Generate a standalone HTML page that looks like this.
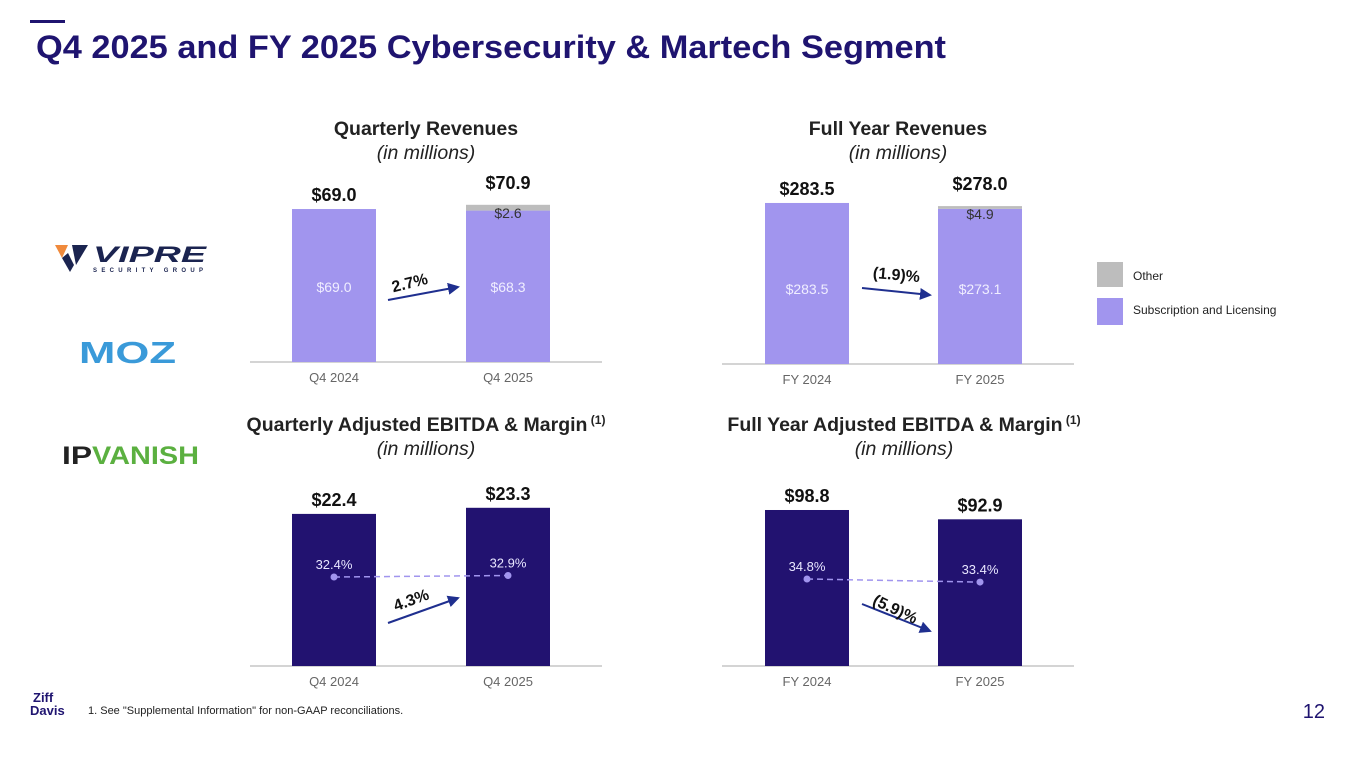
<!DOCTYPE html>
<html><head><meta charset="utf-8">
<style>
body{margin:0;width:1365px;height:770px;background:#fff;overflow:hidden;font-family:"Liberation Sans",Arial,sans-serif;}
svg{position:absolute;left:0;top:0}
</style></head>
<body>
<svg width="1365" height="770" viewBox="0 0 1365 770" font-family="Liberation Sans, Arial, sans-serif">
<rect x="30" y="20" width="35" height="3" fill="#1f1470"/>
<text x="36" y="58" font-size="32" font-weight="bold" fill="#1f1470" textLength="910" lengthAdjust="spacingAndGlyphs">Q4 2025 and FY 2025 Cybersecurity &amp; Martech Segment</text>

<g>
  <g>
    <polygon points="55,245 68,245 62,258" fill="#f08a3c"/>
    <polygon points="62,258 70,272 74,265 68,253" fill="#1b2450"/>
    <polygon points="72,245 88,245 76,265" fill="#1b2450"/>
    <text x="93" y="262" font-size="22" font-weight="bold" font-style="italic" fill="#1b2450" textLength="113" lengthAdjust="spacingAndGlyphs">VIPRE</text>
    <text x="93" y="272" font-size="6" font-weight="bold" fill="#1b2450" textLength="110">SECURITY GROUP</text>
  </g>
  <text x="79" y="363" font-size="31" font-weight="bold" fill="#3a9ad9" textLength="97" lengthAdjust="spacingAndGlyphs">MOZ</text>
  <g>
    <text x="62" y="464" font-size="25" font-weight="bold" fill="#222" textLength="30" lengthAdjust="spacingAndGlyphs">IP</text>
    <text x="92" y="464" font-size="25" font-weight="bold" fill="#5bb040" textLength="107" lengthAdjust="spacingAndGlyphs">VANISH</text>
  </g>
</g>

<g id="charts"></g>

<g>
  <rect x="1097" y="262" width="26" height="25" fill="#bdbdbd"/>
  <text x="1133" y="280" font-size="12" fill="#222">Other</text>
  <rect x="1097" y="298" width="26" height="27" fill="#a195ee"/>
  <text x="1133" y="314" font-size="12" fill="#222">Subscription and Licensing</text>
</g>

<g>
  <text x="33" y="702" font-size="13" font-weight="bold" fill="#1f1470">Ziff</text>
  <text x="30" y="715" font-size="13" font-weight="bold" fill="#1f1470">Davis</text>
</g>
<text x="88" y="714" font-size="11" fill="#222">1.  See "Supplemental Information" for non-GAAP reconciliations.</text>
<text x="1325" y="718" font-size="20" fill="#1f1470" text-anchor="end">12</text>
</svg>

<script>
const qRevCats = ["Q4 2024","Q4 2025"];
const qRevSub = [69.0, 68.3];
const qRevOther = [0, 2.6];
const qRevTotal = [69.0, 70.9];
const fyRevCats = ["FY 2024","FY 2025"];
const fyRevSub = [283.5, 273.1];
const fyRevOther = [0, 4.9];
const fyRevTotal = [283.5, 278.0];
const qEbCats = ["Q4 2024","Q4 2025"];
const qEbVals = [22.4, 23.3];
const qEbMargin = [32.4, 32.9];
const fyEbCats = ["FY 2024","FY 2025"];
const fyEbVals = [98.8, 92.9];
const fyEbMargin = [34.8, 33.4];
const growthLabels = ["2.7%","(1.9)%","4.3%","(5.9)%"];

const NS="http://www.w3.org/2000/svg";
const root=document.getElementById('charts');
function el(tag,attrs,parent){const e=document.createElementNS(NS,tag);for(const k in attrs)e.setAttribute(k,attrs[k]);(parent||root).appendChild(e);return e;}
function txt(x,y,s,size,fill,weight,parent,anchor,extra){const t=el('text',Object.assign({x:x,y:y,'font-size':size,fill:fill,'font-weight':weight||'normal','text-anchor':anchor||'middle'},extra||{}),parent);t.textContent=s;return t;}

function chart(opt){
  const g=el('g',{});
  
  
  const t1=txt(opt.cx,opt.titleY,opt.title,19.5,'#222','bold',g);
  
  
  if(opt.sup){const s=el('tspan',{'font-size':12,dy:-7},t1);s.textContent=' (1)';}
  const t2=txt(opt.cx,opt.titleY+24,'(in millions)',19.5,'#222','normal',g,'middle',{'font-style':'italic'});
  
  
  const ax=el('line',{x1:opt.x0,x2:opt.x0+352,y1:opt.base,y2:opt.base,stroke:'#aaa','stroke-width':1},g);
  
  
  const yS=v=>opt.base-v*opt.k;
  opt.cats.forEach((c,i)=>{
    const bx=opt.barX[i];
    const sub=opt.sub[i];
    const b=el('rect',{x:bx,y:yS(sub),width:84,height:sub*opt.k,fill:opt.color},g);
    
    
    let top=yS(sub);
    if(opt.other && opt.other[i]>0){
      const o=el('rect',{x:bx,y:yS(sub+opt.other[i]),width:84,height:opt.other[i]*opt.k,fill:'#bdbdbd'},g);
      
      
      top=yS(sub+opt.other[i]);
      const ol=txt(bx+42,top+13,'$'+opt.other[i].toFixed(1),14,'#333','normal',g);
      
      
      top-=8;
    }
    const tl=txt(bx+42,top-8,'$'+opt.total[i].toFixed(1),18,'#111','bold',g);
    
    
    if(opt.margin){
      const my=opt.mBase-(opt.margin[i]-opt.mRef)*opt.mk;
      const ml=txt(bx+42,my-8,opt.margin[i].toFixed(1)+'%',13,'#e8e6ff','normal',g);
      
      
    } else {
      const il=txt(bx+42,opt.base-70,'$'+sub.toFixed(1),14,'#f0eeff','normal',g);
      
      
    }
    const cl=txt(bx+42,opt.base+20,c,13,'#666','normal',g);
    
    
  });
  if(opt.margin){
    const pts=opt.margin.map((m,i)=>[opt.barX[i]+42,opt.mBase-(m-opt.mRef)*opt.mk]);
    const ln=el('line',{x1:pts[0][0],y1:pts[0][1],x2:pts[1][0],y2:pts[1][1],stroke:'#a195ee','stroke-width':1.5,'stroke-dasharray':'6,4'},g);
    
    
    pts.forEach(p=>{const d=el('circle',{cx:p[0],cy:p[1],r:3.5,fill:'#a195ee'},g);
      
      });
  }
  const a=opt.arrow;
  const ar=el('line',{x1:a[0],y1:a[1],x2:a[2],y2:a[3],stroke:'#1f2f8f','stroke-width':2,'marker-end':'url(#ah)'},g);
  
  
  const gl=txt(a[4],a[5],opt.growth,16,'#111','bold',g,'middle',{transform:'rotate('+a[6]+' '+a[4]+' '+a[5]+')'});
  
  
}
const defs=el('defs',{});
const mk=el('marker',{id:'ah',markerWidth:6,markerHeight:6,refX:5,refY:3,orient:'auto'},defs);
el('path',{d:'M0,0 L6,3 L0,6 z',fill:'#1f2f8f'},mk);

chart({name:'quarterly-revenue-chart',title:'Quarterly Revenues',cx:426,titleY:135,x0:250,base:362,k:2.217,barX:[292,466],cats:qRevCats,sub:qRevSub,other:qRevOther,total:qRevTotal,color:'#a195ee',arrow:[388,300,458,287,411,288,-14],growth:growthLabels[0]});
chart({name:'full-year-revenue-chart',title:'Full Year Revenues',cx:898,titleY:135,x0:722,base:364,k:0.568,barX:[765,938],cats:fyRevCats,sub:fyRevSub,other:fyRevOther,total:fyRevTotal,color:'#a195ee',arrow:[862,288,930,295,896,280,5],growth:growthLabels[1]});
chart({name:'quarterly-ebitda-chart',title:'Quarterly Adjusted EBITDA & Margin',sup:true,cx:426,titleY:431,x0:250,base:666,k:6.79,barX:[292,466],cats:qEbCats,sub:qEbVals,total:qEbVals,color:'#221270',margin:qEbMargin,mRef:32.4,mBase:577,mk:3,arrow:[388,623,458,598,413,605,-20],growth:growthLabels[2]});
chart({name:'full-year-ebitda-chart',title:'Full Year Adjusted EBITDA & Margin',sup:true,cx:904,titleY:431,x0:722,base:666,k:1.579,barX:[765,938],cats:fyEbCats,sub:fyEbVals,total:fyEbVals,color:'#221270',margin:fyEbMargin,mRef:34.8,mBase:579,mk:2.2,arrow:[862,604,930,631,893,614,25],growth:growthLabels[3]});
</script>
</body></html>
